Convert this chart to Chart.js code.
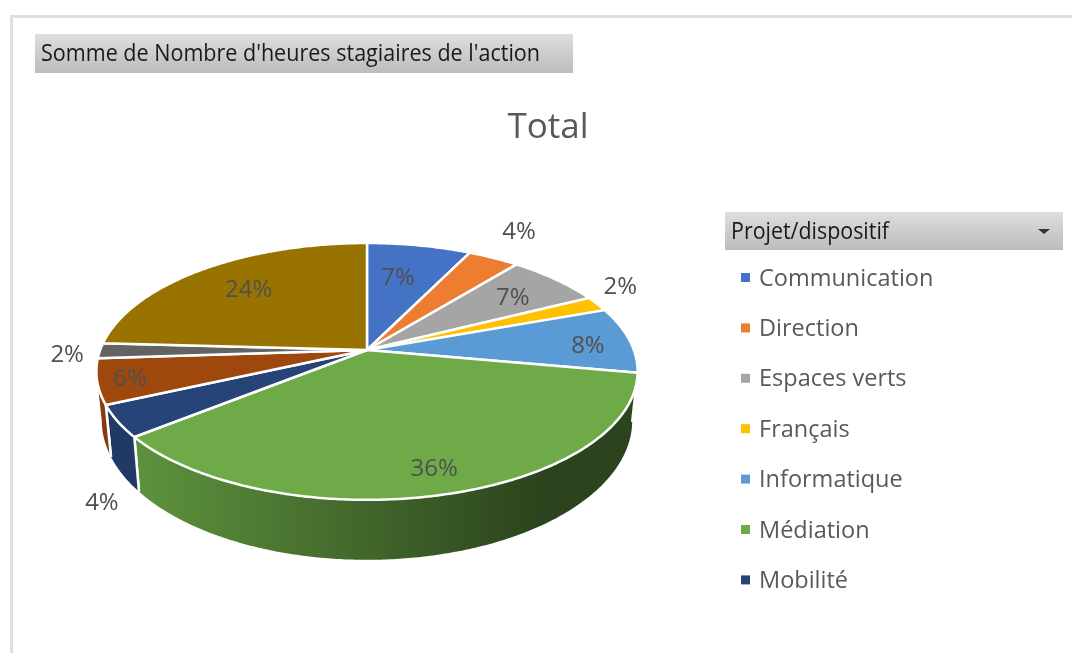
<!DOCTYPE html>
<html><head><meta charset="utf-8">
<style>html,body{margin:0;padding:0;background:#fff;overflow:hidden}#w{position:relative;width:1072px;height:653px}</style>
<script src="https://cdn.jsdelivr.net/npm/chart.js@4/dist/chart.umd.min.js"></script>
</head><body><div id="w"><canvas id="c" width="1072" height="653"></canvas></div>
<script>
const categories = ["Communication","Direction","Espaces verts","Français","Informatique","Médiation","Mobilité","Partenariat","Pilotage","Sécurité"];
const values = [7.3,3.6,6.7,1.9,8.3,36.4,4.0,5.7,1.9,24.1];
const colors = ["#4472C4","#ED7D31","#A5A5A5","#FFC000","#5B9BD5","#6EAB48","#264478","#9E480E","#636363","#997300"];
const legendCount = 7;
const fieldTitle = "Somme de Nombre d'heures stagiaires de l'action";
const filterTitle = "Projet/dispositif";
const chartTitle = "Total";
const labelRadius = [.66,1.32,.745,1.18,.834,.843,1.307,.883,1.118,.717];
const labelTurn = [-1.9,-1.9,.8,-5.2,2.2,-.7,-19.4,-.2,-1.4,1.1];

const FONT='"Open Sans"';
const A=265.5/150,B=124.2/150,P=.167,DEPTH=47/150,SX=.98,SY=1.085;
function proj(el,th,r=1,bottom=false){
  const R=el.outerRadius,u=r*Math.cos(th),v=r*Math.sin(th),w=1-P*v;
  let dx=A*R*u/w,dy=B*R*v/w;
  if(bottom){dx*=SX;dy=dy*SY+DEPTH*R;}
  return [el.x+dx,el.y+dy];
}
function rgb(h){return [1,3,5].map(i=>parseInt(h.substr(i,2),16));}
function shade(h,f){return 'rgb('+rgb(h).map(c=>Math.round(c*f)).join(',')+')';}

class Arc3D extends Chart.ArcElement{
  drawWall(ctx){
    const lo=Math.asin(P),hi=Math.PI-lo;
    const s=Math.max(this.startAngle,lo),e=Math.min(this.endAngle,hi);
    if(e<=s)return;
    const top=[],bot=[];
    const n=Math.max(2,Math.ceil((e-s)/0.01));
    for(let i=0;i<=n;i++){const t=s+(e-s)*i/n;top.push(proj(this,t));bot.push(proj(this,t,1,true));}
    ctx.save();
    const c=this.options.backgroundColor,R=this.outerRadius;
    const g=ctx.createLinearGradient(this.x-1.8*R,0,this.x+1.8*R,0);
    g.addColorStop(0,shade(c,.84));g.addColorStop(.1,shade(c,.84));
    g.addColorStop(.82,shade(c,.4));g.addColorStop(1,shade(c,.4));
    ctx.beginPath();
    top.forEach((p,i)=>i?ctx.lineTo(p[0],p[1]):ctx.moveTo(p[0],p[1]));
    bot.reverse().forEach(p=>ctx.lineTo(p[0],p[1]));
    ctx.closePath();ctx.fillStyle=g;ctx.fill();
    bot.reverse();
    ctx.strokeStyle='#fff';ctx.lineWidth=2.5;
    if(this.startAngle>lo){ctx.beginPath();ctx.moveTo(...top[0]);ctx.lineTo(...bot[0]);ctx.stroke();}
    if(this.endAngle<hi){ctx.beginPath();ctx.moveTo(...top[n]);ctx.lineTo(...bot[n]);ctx.stroke();}
    ctx.restore();
  }
  draw(ctx){
    const s=this.startAngle,e=this.endAngle,n=Math.max(2,Math.ceil((e-s)/0.01));
    ctx.save();
    ctx.beginPath();ctx.moveTo(this.x,this.y);
    for(let i=0;i<=n;i++){const p=proj(this,s+(e-s)*i/n);ctx.lineTo(p[0],p[1]);}
    ctx.closePath();
    ctx.fillStyle=this.options.backgroundColor;ctx.fill();
    ctx.strokeStyle=this.options.borderColor;ctx.lineWidth=this.options.borderWidth;ctx.lineJoin='round';ctx.stroke();
    ctx.restore();
  }
}
Arc3D.id='arc3d';
class Pie3D extends Chart.PieController{
  draw(){
    const ctx=this.chart.ctx;
    this.getMeta().data.forEach(el=>el.drawWall(ctx));
    super.draw();
  }
}
Pie3D.id='pie3d';
Pie3D.defaults=Object.assign({},Chart.PieController.defaults,{dataElementType:'arc3d'});
Pie3D.overrides=Chart.PieController.overrides;
Chart.register(Arc3D,Pie3D);

function bar(ctx,x,y,w,h,text,tx,font,tw){
  const g=ctx.createLinearGradient(0,y,0,y+h);
  g.addColorStop(0,'#dedede');g.addColorStop(1,'#bcbcbc');
  ctx.fillStyle=g;ctx.fillRect(x,y,w,h);
  ctx.fillStyle='#1a1a1a';ctx.font=font;ctx.textAlign='left';ctx.textBaseline='middle';
  ctx.fillText(text,tx,y+h/2+1,tw);
}
const decor={
  id:'decor',
  afterLayout(chart){const t=chart.titleBlock;t.left=0;t.right=1096;},
  beforeDraw(chart){
    const ctx=chart.ctx;ctx.save();
    ctx.fillStyle='#fff';ctx.fillRect(0,0,1072,653);
    ctx.fillStyle='#e0e0e0';ctx.fillRect(10,15,1062,3);ctx.fillRect(10,15,3,638);
    bar(ctx,35,34,538,39,fieldTitle,41,'24px '+FONT,499);
    bar(ctx,725,212,338,38,filterTitle,731,'24px '+FONT,158);
    ctx.fillStyle='#333';ctx.beginPath();ctx.moveTo(1038,229);ctx.lineTo(1050,229);ctx.lineTo(1044,234);ctx.closePath();ctx.fill();
    ctx.font='23.5px '+FONT;ctx.textAlign='left';ctx.textBaseline='middle';
    for(let i=0;i<legendCount;i++){
      const y=277+i*50.4;
      ctx.fillStyle=colors[i];ctx.fillRect(741,y-4,9,9);
      ctx.fillStyle='#595959';ctx.fillText(categories[i],759,y+2);
    }
    ctx.restore();
  },
  afterDatasetsDraw(chart){
    const ctx=chart.ctx,meta=chart.getDatasetMeta(0);ctx.save();
    ctx.font='24px '+FONT;ctx.fillStyle='#505050';ctx.textAlign='center';ctx.textBaseline='middle';
    meta.data.forEach((el,i)=>{
      const mid=(el.startAngle+el.endAngle)/2+labelTurn[i]*Math.PI/180;
      const p=proj(el,mid,labelRadius[i]);
      ctx.fillText(Math.round(values[i])+'%',p[0],p[1]+1);
    });
    ctx.restore();
  }
};
new Chart(document.getElementById('c'),{
  type:'pie3d',
  data:{labels:categories,datasets:[{data:values,backgroundColor:colors,borderColor:'#fff',borderWidth:2.5}]},
  plugins:[decor],
  options:{
    responsive:false,animation:false,
    layout:{padding:{left:215,right:553,top:107,bottom:151}},
    plugins:{
      legend:{display:false},tooltip:{enabled:false},
      title:{display:true,text:chartTitle,color:'#595959',font:{family:'Open Sans',size:35,weight:'normal',lineHeight:1.2},padding:{top:0,bottom:49}}
    }
  }
});
</script></body></html>
